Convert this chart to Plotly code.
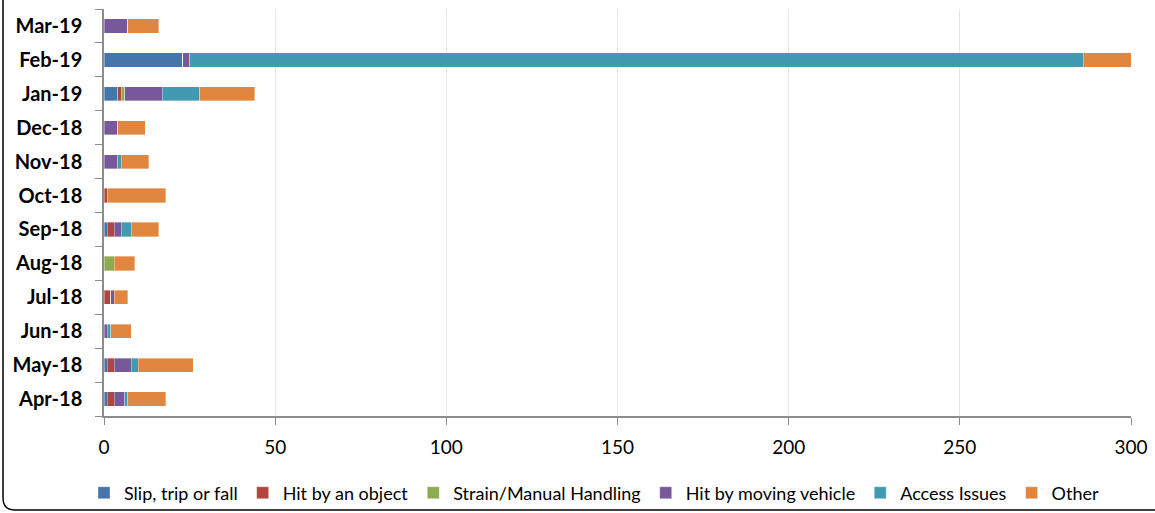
import plotly.graph_objects as go

# Monthly incident counts by category (bottom-to-top order of the chart)
months = ["Apr-18", "May-18", "Jun-18", "Jul-18", "Aug-18", "Sep-18",
          "Oct-18", "Nov-18", "Dec-18", "Jan-19", "Feb-19", "Mar-19"]

slip_trip_fall = [1, 1, 0, 0, 0, 1, 0, 0, 0, 4, 23, 0]
hit_by_object = [2, 2, 0, 2, 0, 2, 1, 0, 0, 1, 0, 0]
strain_manual = [0, 0, 0, 0, 3, 0, 0, 0, 0, 1, 0, 0]
hit_by_vehicle = [3, 5, 1, 1, 0, 2, 0, 4, 4, 11, 2, 7]
access_issues = [1, 2, 1, 0, 0, 3, 0, 1, 0, 11, 261, 0]
other = [11, 16, 6, 4, 6, 8, 17, 8, 8, 16, 14, 9]

series = [
    ("Slip, trip or fall", slip_trip_fall, "#4675AC"),
    ("Hit by an object", hit_by_object, "#B2463F"),
    ("Strain/Manual Handling", strain_manual, "#8CAB4F"),
    ("Hit by moving vehicle", hit_by_vehicle, "#77589B"),
    ("Access Issues", access_issues, "#4299B2"),
    ("Other", other, "#E0863E"),
]

FONT = "Lato, 'Open Sans', sans-serif"

fig = go.Figure()
for name, values, color in series:
    fig.add_trace(go.Bar(
        y=months, x=values, name=name, orientation="h",
        marker=dict(color=color, line=dict(color="rgba(255,255,255,0.6)", width=0.6)),
    ))

W, H = 1155, 513
ML, MR, MT, MB = 104, 24, 9, 97
pw, ph = W - ML - MR, H - MT - MB

def px_x(p):
    return (p - ML) / pw

def px_y(p):
    return (H - MB - p) / ph

# rounded outer frame of the chart area
left, right, top, bottom, r = 3, 1170, -20, 510, 12
frame = (
    f"M {px_x(right)},{px_y(bottom)} "
    f"L {px_x(left + r)},{px_y(bottom)} "
    f"Q {px_x(left)},{px_y(bottom)} {px_x(left)},{px_y(bottom - r)} "
    f"L {px_x(left)},{px_y(top)}"
)

fig.update_layout(
    barmode="stack",
    bargap=0.58,
    width=W, height=H,
    margin=dict(l=ML, r=MR, t=MT, b=MB, autoexpand=False),
    plot_bgcolor="white", paper_bgcolor="white",
    font=dict(family=FONT, color="black"),
    xaxis=dict(
        range=[0, 300], dtick=50, tick0=0, automargin=False,
        showgrid=True, gridcolor="#E6E6E6", gridwidth=1,
        showline=True, linecolor="#8C8C8C", linewidth=1.5,
        ticks="outside", ticklen=7, tickcolor="#8C8C8C",
        tickfont=dict(size=19, family=FONT), zeroline=False,
        ticklabelstandoff=6,
    ),
    yaxis=dict(
        type="category", categoryorder="array", categoryarray=months,
        automargin=False,
        showline=True, linecolor="#8C8C8C", linewidth=1.5,
        ticks="outside", ticklen=7, tickcolor="#8C8C8C", tickson="boundaries",
        tickfont=dict(size=20, family=FONT, weight="bold"),
        ticklabelstandoff=16, showgrid=False,
    ),
    legend=dict(
        orientation="h", xref="container", x=594 / W, xanchor="center",
        yref="container", y=(H - 493) / H, yanchor="middle",
        font=dict(size=18, family=FONT), traceorder="normal",
        itemwidth=30, tracegroupgap=0, bgcolor="rgba(0,0,0,0)",
    ),
    shapes=[dict(
        type="path", path=frame, xref="paper", yref="paper",
        line=dict(color="black", width=1.5), layer="above",
    )],
)

fig.write_html("out.html")
